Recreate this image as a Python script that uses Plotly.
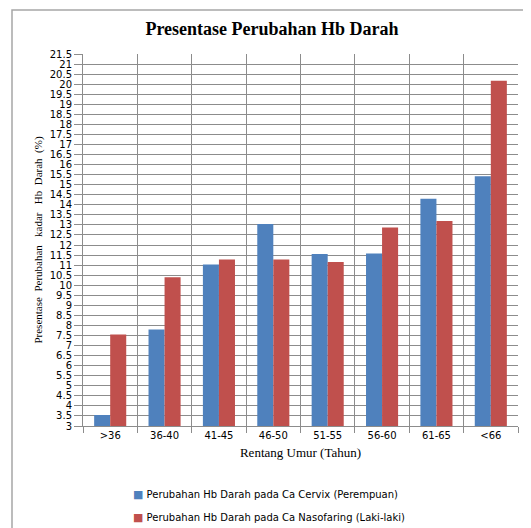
import plotly.graph_objects as go

categories = [">36", "36-40", "41-45", "46-50", "51-55", "56-60", "61-65", "<66"]
cervix = [3.55, 7.8, 11.03, 13.05, 11.55, 11.58, 14.3, 15.42]
nasofaring = [7.55, 10.4, 11.28, 11.28, 11.16, 12.87, 13.19, 20.17]
series_names = [
    "Perubahan Hb Darah pada Ca Cervix (Perempuan)",
    "Perubahan Hb Darah pada Ca Nasofaring (Laki-laki)",
]
series_colors = ["#4F81BD", "#C0504D"]
y_ticks = [3 + 0.5 * i for i in range(38)]
y_tick_text = [("%g" % v) for v in y_ticks]

# page body has an 8px default margin; figure is sized to fit in the window
W, H = 523, 520
L, R, T, B = 75, 13, 46, 102
PW, PH = W - L - R, H - T - B

fig = go.Figure()
for name, vals, col in zip(series_names, [cervix, nasofaring], series_colors):
    fig.add_trace(go.Bar(x=categories, y=vals, name=name,
                         marker=dict(color=col, line=dict(width=0)),
                         showlegend=False))

grid = "#8c8c8c"
annotations = []
for i, (name, col) in enumerate(zip(series_names, series_colors)):
    annotations.append(dict(
        xref="paper", yref="paper", x=(123 - L) / PW,
        y=(T + PH - (486 + 23 * i)) / PH, xanchor="left", yanchor="middle",
        showarrow=False,
        text="<span style='color:%s;font-size:11px'>■</span> %s" % (col, name),
        font=dict(family="DejaVu Sans", size=10, color="black")))

fig.update_layout(
    width=W, height=H,
    margin=dict(l=L, r=R, t=T, b=B, autoexpand=False),
    paper_bgcolor="white", plot_bgcolor="white",
    barmode="group", bargap=0.41, bargroupgap=0,
    title=dict(text="<b>Presentase Perubahan Hb Darah</b>",
               font=dict(family="Liberation Serif", size=18, color="black"),
               x=264 / W, xanchor="center", y=1 - 21 / H, yanchor="middle"),
    xaxis=dict(type="category", tickson="boundaries", showgrid=True,
               gridcolor=grid, gridwidth=1, ticks="outside", ticklen=6,
               tickcolor=grid, showline=True, linecolor=grid, linewidth=1,
               automargin=False,
               tickfont=dict(family="DejaVu Sans", size=10, color="black"),
               title=dict(text="Rentang Umur (Tahun)", standoff=7,
                          font=dict(family="Liberation Serif", size=13, color="black"))),
    yaxis=dict(range=[3, 21.5], tickmode="array", tickvals=y_ticks,
               ticktext=y_tick_text, showgrid=True, gridcolor=grid,
               gridwidth=1, ticks="outside", ticklen=8, tickcolor=grid,
               showline=True, linecolor=grid, linewidth=1, zeroline=False,
               automargin=False,
               tickfont=dict(family="DejaVu Sans", size=10, color="black"),
               title=dict(text="Presentase&nbsp;&nbsp;Perubahan&nbsp;&nbsp;&nbsp;kadar&nbsp;&nbsp;&nbsp;Hb&nbsp;&nbsp;Darah&nbsp;&nbsp;(%)",
                          standoff=4,
                          font=dict(family="Liberation Serif", size=11, color="black"))),
    showlegend=False,
    annotations=annotations,
    shapes=[dict(type="rect", xref="paper", yref="paper",
                 x0=(4 - L) / PW, x1=1.2, y0=-0.5, y1=(T + PH - 2) / PH,
                 line=dict(color="#a6a6a6", width=1.5), layer="below")],
)
fig.write_html("out.html")
